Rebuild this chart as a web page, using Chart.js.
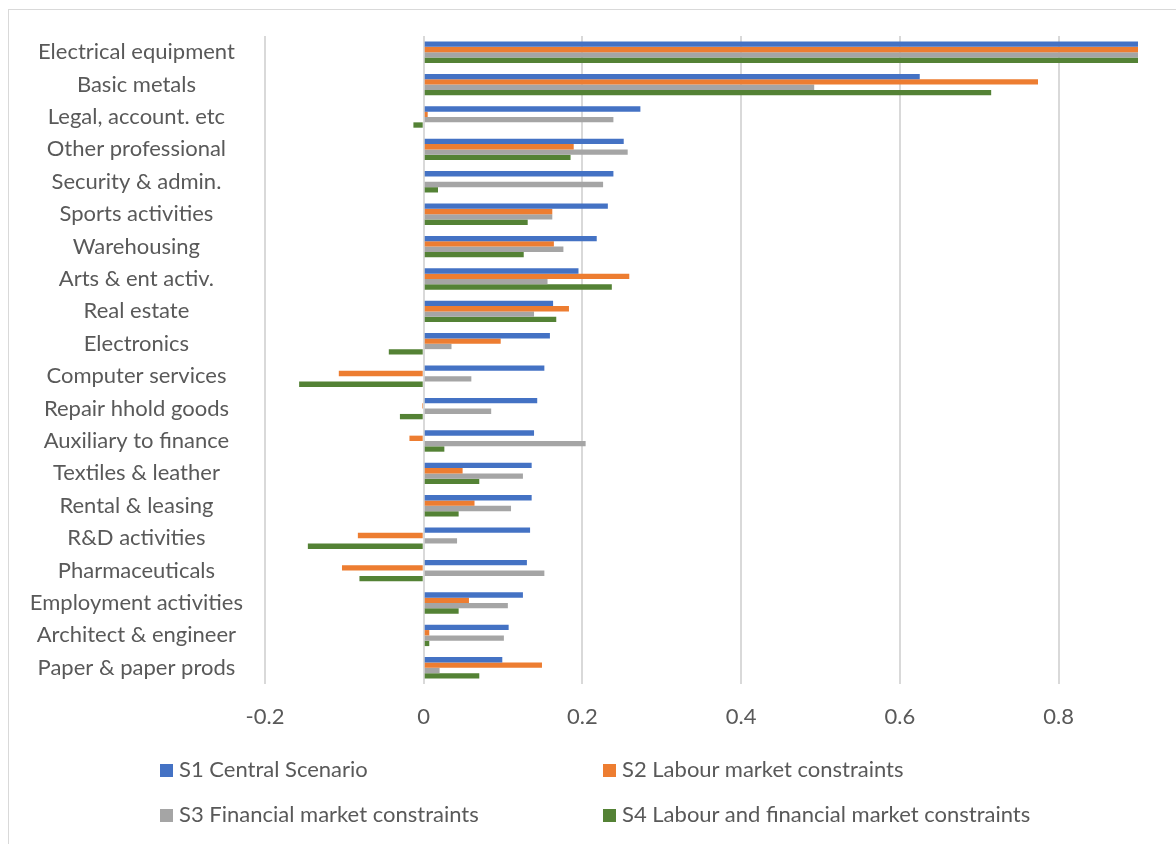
<!DOCTYPE html>
<html>
<head>
<meta charset="utf-8">
<script src="https://cdn.jsdelivr.net/npm/chart.js@4"></script>
<style>
    html, body { margin: 0; padding: 0; background: #fff; overflow: hidden; }
    #wrap { position: relative; width: 1176px; height: 844px; }
    #frame { position: absolute; left: 8px; top: 9px; width: 1200px; height: 900px; border: 1px solid #d9d9d9; }
    #legend { position: absolute; left: 0; top: 0; font-family: Lato, sans-serif; font-size: 22px; color: #595959; }
    .item { position: absolute; white-space: nowrap; line-height: 26px; }
    .item span.box { display: inline-block; width: 13px; height: 13px; margin-right: 6px; vertical-align: 0px; }
</style>
</head>
<body>
<div id="wrap">
    <div id="frame"></div>
    <canvas id="barChart" width="1176" height="844"></canvas>
    <div id="legend"></div>
</div>
<script>
// categories, top to bottom
const categories = [
    'Electrical equipment', 'Basic metals', 'Legal, account. etc', 'Other professional',
    'Security & admin.', 'Sports activities', 'Warehousing', 'Arts & ent activ.',
    'Real estate', 'Electronics', 'Computer services', 'Repair hhold goods',
    'Auxiliary to finance', 'Textiles & leather', 'Rental & leasing', 'R&D activities',
    'Pharmaceuticals', 'Employment activities', 'Architect & engineer', 'Paper & paper prods'
];

const s1Central = [0.9, 0.625, 0.273, 0.252, 0.239, 0.232, 0.218, 0.195, 0.163, 0.159,
    0.152, 0.143, 0.139, 0.136, 0.136, 0.134, 0.130, 0.125, 0.107, 0.099];
const s2Labour = [0.9, 0.774, 0.005, 0.189, 0, 0.162, 0.164, 0.259, 0.183, 0.097,
    -0.107, -0.002, -0.018, 0.049, 0.064, -0.083, -0.103, 0.057, 0.007, 0.149];
const s3Financial = [0.9, 0.492, 0.239, 0.257, 0.226, 0.162, 0.176, 0.156, 0.139, 0.035,
    0.060, 0.085, 0.204, 0.125, 0.110, 0.042, 0.152, 0.106, 0.101, 0.020];
const s4Both = [0.9, 0.715, -0.013, 0.185, 0.018, 0.131, 0.126, 0.237, 0.167, -0.044,
    -0.157, -0.030, 0.026, 0.070, 0.044, -0.146, -0.081, 0.044, 0.007, 0.070];

const seriesNames = [
    'S1 Central Scenario',
    'S2 Labour market constraints',
    'S3 Financial market constraints',
    'S4 Labour and financial market constraints'
];
const seriesColors = ['#4472C4', '#ED7D31', '#A5A5A5', '#548235'];

const xTicks = [-0.2, 0, 0.2, 0.4, 0.6, 0.8];

document.addEventListener('DOMContentLoaded', function() {
    const ctx = document.getElementById('barChart').getContext('2d');
    const values = [s1Central, s2Labour, s3Financial, s4Both];

    new Chart(ctx, {
        type: 'bar',
        data: {
            labels: categories,
            datasets: values.map((vals, i) => ({
                label: seriesNames[i],
                data: vals,
                backgroundColor: seriesColors[i],
                borderWidth: 0,
                categoryPercentage: 0.66,
                barPercentage: 1.0
            }))
        },
        options: {
            indexAxis: 'y',
            responsive: false,
            animation: false,
            layout: { padding: { left: 8, right: 38, top: 36, bottom: 100 } },
            plugins: {
                legend: { display: false },
                tooltip: { enabled: false }
            },
            scales: {
                x: {
                    min: -0.2,
                    max: 0.9,
                    afterBuildTicks: scale => { scale.ticks = xTicks.map(v => ({ value: v })); },
                    afterFit: scale => { scale.height = 60; },
                    grid: { color: '#d9d9d9', lineWidth: 2, drawTicks: false },
                    border: { display: false },
                    ticks: {
                        padding: 20,
                        color: '#595959',
                        font: { family: 'Lato', size: 22 },
                        callback: v => String(Math.round(v * 10) / 10)
                    }
                },
                y: {
                    afterFit: scale => { scale.width = 257; },
                    grid: { display: false },
                    border: { display: false },
                    ticks: {
                        crossAlign: 'center',
                        padding: 14,
                        autoSkip: false,
                        color: '#595959',
                        font: { family: 'Lato', size: 22 }
                    }
                }
            }
        }
    });

    // legend in two columns, like the original
    const legend = document.getElementById('legend');
    const spots = [[160, 756], [603, 756], [160, 801], [603, 801]];
    seriesNames.forEach((name, i) => {
        const el = document.createElement('div');
        el.className = 'item';
        el.style.left = spots[i][0] + 'px';
        el.style.top = spots[i][1] + 'px';
        el.innerHTML = '<span class="box" style="background:' + seriesColors[i] + '"></span>' + name;
        legend.appendChild(el);
    });
});
</script>
</body>
</html>
